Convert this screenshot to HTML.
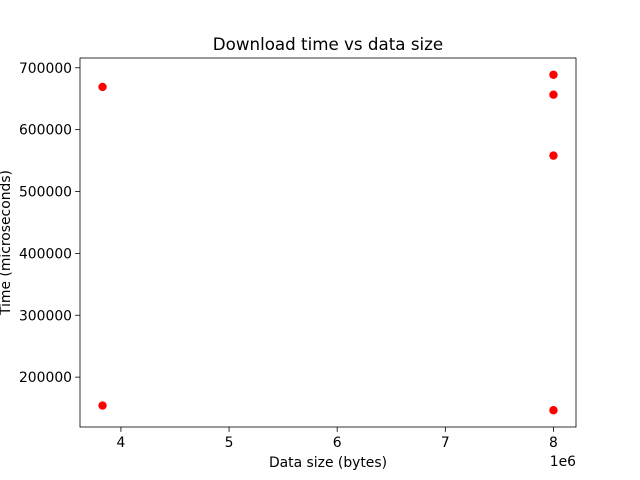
<!DOCTYPE html>
<html><head><meta charset="utf-8"><style>body{margin:0;background:#fff}svg{display:block;font-family:"DejaVu Sans","Liberation Sans",sans-serif}</style></head>
<body>
<svg id="chart" width="640" height="480" viewBox="0 0 640 480"></svg>
<script>
const xValues = [3830000, 3830000, 8000000, 8000000, 8000000, 8000000];
const yValues = [669000, 154000, 688700, 656500, 558000, 146500];
const xTicks = [4, 5, 6, 7, 8];
const yTicks = [200000, 300000, 400000, 500000, 600000, 700000];
const L=80,R=576,T=58,B=427;
const xmin=3.6215e6,xmax=8.2085e6,ymin=119400,ymax=715800;
const sx=v=>L+(v-xmin)/(xmax-xmin)*(R-L);
const sy=v=>B-(v-ymin)/(ymax-ymin)*(B-T);
const svg=document.getElementById('chart');const NS='http://www.w3.org/2000/svg';
function mk(t,a,txt){const e=document.createElementNS(NS,t);for(const k in a)e.setAttribute(k,a[k]);if(txt!==undefined)e.textContent=txt;svg.appendChild(e);return e;}
xValues.forEach((x,i)=>{const c=mk('circle',{cx:sx(x),cy:sy(yValues[i]),r:4.2,fill:'#ff0000'});

});
const f=mk('rect',{x:L,y:T,width:R-L,height:B-T,fill:'none',stroke:'#000','stroke-width':0.8});


xTicks.forEach(t=>{const x=sx(t*1e6);mk('line',{x1:x,x2:x,y1:B,y2:B+4.9,stroke:'#000','stroke-width':0.8});
const l=mk('text',{x:x,y:B+20,'text-anchor':'middle','font-size':13.9},String(t));

});
yTicks.forEach(t=>{const y=sy(t);mk('line',{x1:L-4.9,x2:L,y1:y,y2:y,stroke:'#000','stroke-width':0.8});
const l=mk('text',{x:L-8,y:y+5,'text-anchor':'end','font-size':13.9},String(t));

});
let e;
e=mk('text',{x:R,y:466,'text-anchor':'end','font-size':13.9},'1e6');


e=mk('text',{x:(L+R)/2,y:467,'text-anchor':'middle','font-size':13.9},'Data size (bytes)');


e=mk('text',{x:0,y:0,'text-anchor':'middle','font-size':13.9,transform:`translate(10,${(T+B)/2}) rotate(-90)`},'Time (microseconds)');


e=mk('text',{x:(L+R)/2,y:T-8,'text-anchor':'middle','font-size':16.7},'Download time vs data size');


</script>
</body></html>
